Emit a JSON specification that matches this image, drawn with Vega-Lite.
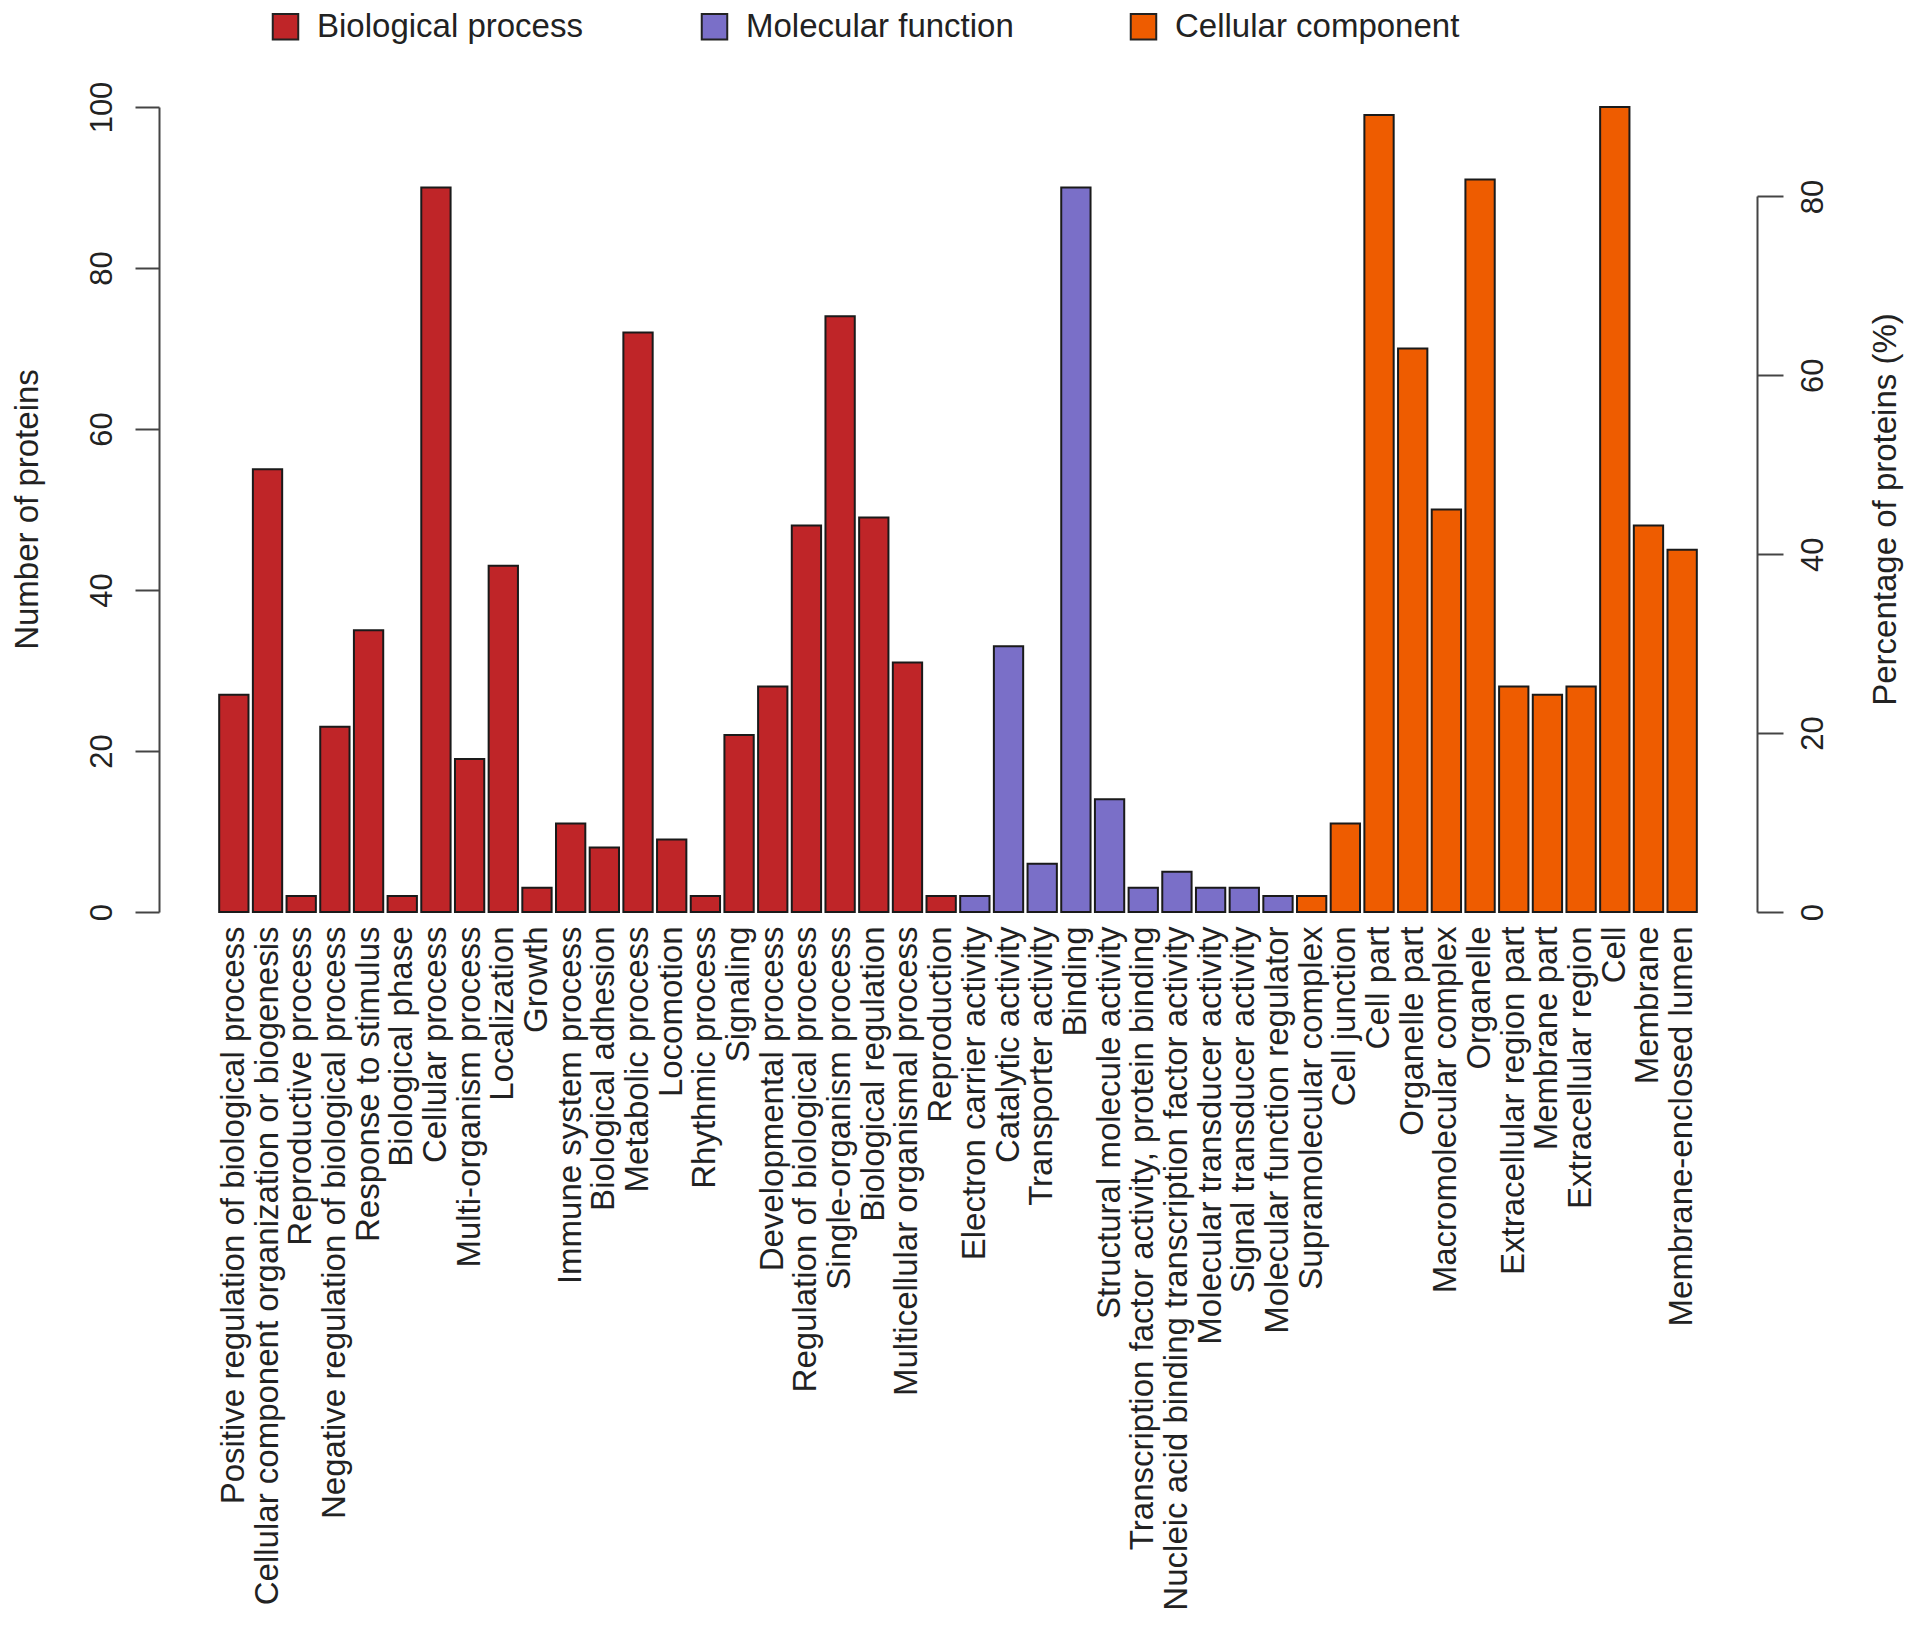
{
  "$schema": "https://vega.github.io/schema/vega-lite/v6.json",
  "width": 1482,
  "height": 805,
  "autosize": {"type": "none"},
  "padding": {"left": 217, "top": 107, "right": 214, "bottom": 717},
  "background": "white",
  "config": {
    "view": {"stroke": null},
    "font": "Liberation Sans"
  },
  "data": {
    "values": [
      {"term": "Positive regulation of biological process", "category": "Biological process", "count": 27},
      {"term": "Cellular component organization or biogenesis", "category": "Biological process", "count": 55},
      {"term": "Reproductive process", "category": "Biological process", "count": 2},
      {"term": "Negative regulation of biological process", "category": "Biological process", "count": 23},
      {"term": "Response to stimulus", "category": "Biological process", "count": 35},
      {"term": "Biological phase", "category": "Biological process", "count": 2},
      {"term": "Cellular process", "category": "Biological process", "count": 90},
      {"term": "Multi-organism process", "category": "Biological process", "count": 19},
      {"term": "Localization", "category": "Biological process", "count": 43},
      {"term": "Growth", "category": "Biological process", "count": 3},
      {"term": "Immune system process", "category": "Biological process", "count": 11},
      {"term": "Biological adhesion", "category": "Biological process", "count": 8},
      {"term": "Metabolic process", "category": "Biological process", "count": 72},
      {"term": "Locomotion", "category": "Biological process", "count": 9},
      {"term": "Rhythmic process", "category": "Biological process", "count": 2},
      {"term": "Signaling", "category": "Biological process", "count": 22},
      {"term": "Developmental process", "category": "Biological process", "count": 28},
      {"term": "Regulation of biological process", "category": "Biological process", "count": 48},
      {"term": "Single-organism process", "category": "Biological process", "count": 74},
      {"term": "Biological regulation", "category": "Biological process", "count": 49},
      {"term": "Multicellular organismal process", "category": "Biological process", "count": 31},
      {"term": "Reproduction", "category": "Biological process", "count": 2},
      {"term": "Electron carrier activity", "category": "Molecular function", "count": 2},
      {"term": "Catalytic activity", "category": "Molecular function", "count": 33},
      {"term": "Transporter activity", "category": "Molecular function", "count": 6},
      {"term": "Binding", "category": "Molecular function", "count": 90},
      {"term": "Structural molecule activity", "category": "Molecular function", "count": 14},
      {"term": "Transcription factor activity, protein binding", "category": "Molecular function", "count": 3},
      {"term": "Nucleic acid binding transcription factor activity", "category": "Molecular function", "count": 5},
      {"term": "Molecular transducer activity", "category": "Molecular function", "count": 3},
      {"term": "Signal transducer activity", "category": "Molecular function", "count": 3},
      {"term": "Molecular function regulator", "category": "Molecular function", "count": 2},
      {"term": "Supramolecular complex", "category": "Cellular component", "count": 2},
      {"term": "Cell junction", "category": "Cellular component", "count": 11},
      {"term": "Cell part", "category": "Cellular component", "count": 99},
      {"term": "Organelle part", "category": "Cellular component", "count": 70},
      {"term": "Macromolecular complex", "category": "Cellular component", "count": 50},
      {"term": "Organelle", "category": "Cellular component", "count": 91},
      {"term": "Extracellular region part", "category": "Cellular component", "count": 28},
      {"term": "Membrane part", "category": "Cellular component", "count": 27},
      {"term": "Extracellular region", "category": "Cellular component", "count": 28},
      {"term": "Cell", "category": "Cellular component", "count": 100},
      {"term": "Membrane", "category": "Cellular component", "count": 48},
      {"term": "Membrane-enclosed lumen", "category": "Cellular component", "count": 45}
    ]
  },
  "layer": [
    {
      "mark": {"type": "bar", "stroke": "#1a1a1a", "strokeWidth": 2},
      "encoding": {
        "x": {
          "field": "term",
          "type": "nominal",
          "sort": null,
          "scale": {"paddingInner": 0.13, "paddingOuter": 0.065},
          "axis": {
            "title": null,
            "domain": false,
            "ticks": false,
            "tickSize": 0,
            "labelAngle": 270,
            "labelAlign": "right",
            "labelBaseline": "middle",
            "labelPadding": 14,
            "labelFontSize": 33,
            "labelColor": "#222222",
            "labelLimit": 1000,
            "labelOverlap": false
          }
        },
        "y": {
          "field": "count",
          "type": "quantitative",
          "scale": {"domain": [0, 100], "nice": false},
          "axis": {
            "title": "Number of proteins",
            "offset": 58,
            "values": [0, 20, 40, 60, 80, 100],
            "grid": false,
            "domainColor": "#444444",
            "domainWidth": 2,
            "tickColor": "#444444",
            "tickWidth": 2,
            "tickSize": 24,
            "labelAngle": 270,
            "labelAlign": "center",
            "labelBaseline": "bottom",
            "labelPadding": 17,
            "labelFontSize": 31,
            "labelColor": "#222222",
            "labelFlush": false,
            "labelOverlap": false,
            "titleFontSize": 33,
            "titleFontWeight": "normal",
            "titleColor": "#222222",
            "titleAngle": 270,
            "titleAlign": "center",
            "titleBaseline": "middle",
            "titleX": -132,
            "titleY": 402
          }
        },
        "color": {
          "field": "category",
          "type": "nominal",
          "scale": {
            "domain": ["Biological process", "Molecular function", "Cellular component"],
            "range": ["#BF2528", "#7A6FC8", "#EE5C00"]
          },
          "legend": {
            "title": null,
            "orient": "none",
            "legendX": 52,
            "legendY": -97,
            "direction": "horizontal",
            "columns": 3,
            "gridAlign": "all",
            "columnPadding": 95,
            "padding": 0,
            "symbolType": "square",
            "symbolSize": 650,
            "symbolStrokeColor": "#222222",
            "symbolStrokeWidth": 2,
            "labelFontSize": 33,
            "labelColor": "#222222",
            "labelOffset": 15,
            "labelLimit": 1000
          }
        }
      }
    },
    {
      "data": {"values": [{"pct": 0}, {"pct": 80}]},
      "mark": {"type": "point", "opacity": 0},
      "encoding": {
        "y": {
          "field": "pct",
          "type": "quantitative",
          "scale": {"domain": [0, 90], "nice": false},
          "axis": {
            "orient": "right",
            "offset": 58,
            "title": "Percentage of proteins (%)",
            "values": [0, 20, 40, 60, 80],
            "grid": false,
            "domainColor": "#444444",
            "domainWidth": 2,
            "domainDash": [716, 3000],
            "tickColor": "#444444",
            "tickWidth": 2,
            "tickSize": 26,
            "labelAngle": 270,
            "labelAlign": "center",
            "labelBaseline": "top",
            "labelPadding": 15,
            "labelFontSize": 31,
            "labelColor": "#222222",
            "labelFlush": false,
            "labelOverlap": false,
            "titleFontSize": 33,
            "titleFontWeight": "normal",
            "titleColor": "#222222",
            "titleAngle": 270,
            "titleAlign": "center",
            "titleBaseline": "middle",
            "titleX": 128,
            "titleY": 402
          }
        }
      }
    }
  ],
  "resolve": {"scale": {"y": "independent"}}
}
